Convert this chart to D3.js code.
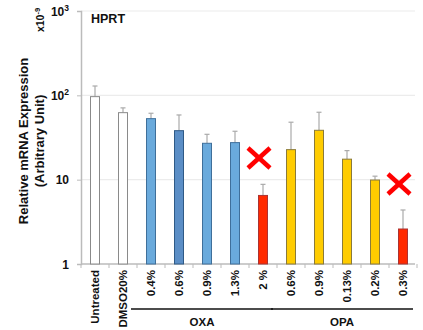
<!DOCTYPE html>
<html><head><meta charset="utf-8">
<script src="https://cdn.jsdelivr.net/npm/d3@7"></script>
<style>body{margin:0;background:#fff;}svg{display:block;font-family:"Liberation Sans",Arial,sans-serif;}</style>
</head><body><svg id="c" width="423" height="330"></svg>
<script>
const categories = ["Untreated","DMSO20%","0.4%","0.6%","0.9%","1.3%","2 %","0.6%","0.9%","0.13%","0.2%","0.3%"];
const values = [96.5, 62.3, 52.9, 38.1, 27.0, 27.5, 6.5, 22.7, 38.5, 17.5, 9.9, 2.6];
const errors = [129, 71, 61.3, 58.5, 34.5, 37.5, 8.8, 48, 63, 22.1, 11, 4.37];
const colors = ["#ffffff","#ffffff","#6aaadc","#5b8ec6","#6aaadc","#6aaadc","#ff2a00","#ffcc00","#ffcc00","#ffcc00","#ffcc00","#ff2a00"];
const strokes = ["#8a8a8a","#8a8a8a","#3f6f9a","#2f5a86","#3f6f9a","#3f6f9a","#a33","#8a7a3a","#8a7a3a","#8a7a3a","#8a7a3a","#a33"];
const yTicks = [1, 10, 100, 1000];
const groups = [{name:"OXA", from:2, to:6}, {name:"OPA", from:7, to:11}];
const crossed = [6, 11];

const svg = d3.select("#c");
const mLeft = 81, mRight = 417, mTop = 11, mBottom = 264;
const x = d3.scaleBand().domain(d3.range(categories.length)).range([mLeft, mRight]).padding(0);
const y = d3.scaleLog().domain([1, 1000]).range([mBottom, mTop]);

// gridlines
svg.append("g").selectAll("line").data(yTicks.slice(1)).join("line")
  .attr("x1", mLeft).attr("x2", 415).attr("y1", d => y(d)).attr("y2", d => y(d))
  .attr("stroke", "#ececec").attr("stroke-width", 1.2);

// y axis
const yAxis = d3.axisLeft(y).tickValues(yTicks).tickSize(4).tickFormat("");
const ya = svg.append("g").attr("transform", `translate(${mLeft},0)`).call(yAxis);
ya.select(".domain").attr("stroke", "#bbb").attr("stroke-width", 1.5);
ya.selectAll(".tick line").attr("stroke", "#bbb");
const yl = svg.append("g").attr("font-weight", "bold").attr("font-size", 12).attr("fill", "#111");
yTicks.forEach(t => {
  const tx = yl.append("text").attr("x", 69).attr("y", y(t) + 4.5).attr("text-anchor", "end");
  if (t === 1) tx.text("1");
  else if (t === 10) tx.text("10");
  else {
    tx.text("10");
    tx.append("tspan").attr("font-size", 8.5).attr("dy", -5).text(t === 100 ? "2" : "3");
  }
});
svg.append("text").attr("transform", "translate(44,20) rotate(-90)").attr("text-anchor", "middle")
  .attr("font-weight", "bold").attr("font-size", 10.5).attr("fill", "#111")
  .text("x10").append("tspan").attr("font-size", 7.5).attr("dy", -4).text("-9");

// axis title
const title = svg.append("text").attr("transform", "translate(0,141) rotate(-90)").attr("text-anchor", "middle")
  .attr("font-weight", "bold").attr("font-size", 13).attr("fill", "#111");
title.append("tspan").attr("x", 0).attr("y", 28).text("Relative mRNA Expression");
title.append("tspan").attr("x", 0).attr("y", 44).text("(Arbitrary Unit)");

// x axis
const xa = svg.append("g").attr("transform", `translate(0,${mBottom})`);
xa.append("line").attr("x1", mLeft).attr("x2", mRight - 2).attr("stroke", "#bbb").attr("stroke-width", 1.5);
xa.selectAll(".tk").data(d3.range(categories.length + 1)).join("line")
  .attr("x1", i => mLeft + i * x.bandwidth()).attr("x2", i => mLeft + i * x.bandwidth())
  .attr("y1", 0).attr("y2", 4).attr("stroke", "#bbb");

// bars
const bw = 9;
const bars = svg.append("g");
bars.selectAll("line.err").data(values).join("line")
  .attr("x1", (d, i) => x(i) + x.bandwidth() / 2).attr("x2", (d, i) => x(i) + x.bandwidth() / 2)
  .attr("y1", d => y(d)).attr("y2", (d, i) => y(errors[i])).attr("stroke", "#aaa").attr("stroke-width", 1.2);
bars.selectAll("line.cap").data(values).join("line")
  .attr("x1", (d, i) => x(i) + x.bandwidth() / 2 - 2.5).attr("x2", (d, i) => x(i) + x.bandwidth() / 2 + 2.5)
  .attr("y1", (d, i) => y(errors[i])).attr("y2", (d, i) => y(errors[i])).attr("stroke", "#aaa").attr("stroke-width", 1.2);
bars.selectAll("rect").data(values).join("rect")
  .attr("x", (d, i) => x(i) + x.bandwidth() / 2 - bw / 2).attr("width", bw)
  .attr("y", d => y(d)).attr("height", d => mBottom - y(d))
  .attr("fill", (d, i) => colors[i]).attr("stroke", (d, i) => strokes[i]).attr("stroke-width", 1);

// crosses
crossed.forEach(i => {
  const cx = x(i) + x.bandwidth() / 2 - 4;
  const ccy = i === 6 ? 158 : 184;
  const g = svg.append("g").attr("stroke", "#ff0000").attr("stroke-width", 4.5);
  g.append("line").attr("x1", cx - 11).attr("x2", cx + 11).attr("y1", ccy - 10).attr("y2", ccy + 10);
  g.append("line").attr("x1", cx - 11).attr("x2", cx + 11).attr("y1", ccy + 10).attr("y2", ccy - 10);
});

// category labels
svg.append("g").selectAll("text").data(categories).join("text")
  .attr("transform", (d, i) => `translate(${x(i) + x.bandwidth() / 2 + 4},270) rotate(-90)`)
  .attr("text-anchor", "end").attr("font-weight", "bold").attr("font-size", 11.5).attr("fill", "#111")
  .text(d => d);

// group lines
groups.forEach(g => {
  const x1 = x(g.from) - 6, x2 = x(g.to) + x.bandwidth() - 4;
  svg.append("line").attr("x1", x1).attr("x2", x2).attr("y1", 309).attr("y2", 309).attr("stroke", "#111").attr("stroke-width", 1.5);
  svg.append("text").attr("x", (x1 + x2) / 2).attr("y", 326).attr("text-anchor", "middle")
    .attr("font-weight", "bold").attr("font-size", 11.5).attr("fill", "#111").text(g.name);
});

// HPRT
svg.append("text").attr("x", 91).attr("y", 23).attr("font-weight", "bold").attr("font-size", 12.5).attr("fill", "#111").text("HPRT");
</script></body></html>
